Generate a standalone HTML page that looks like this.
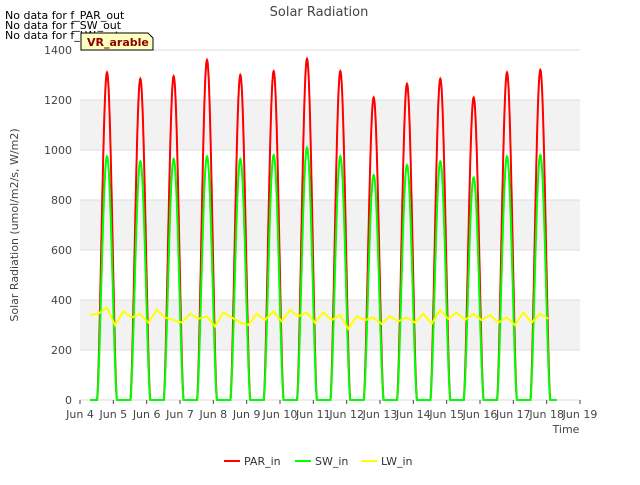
<!DOCTYPE html>
<html><head><meta charset="utf-8"><style>
body{margin:0;background:#fff;font-family:"Liberation Sans","DejaVu Sans",sans-serif}
</style></head><body>
<svg id="chart" width="640" height="480" xmlns="http://www.w3.org/2000/svg" font-family="DejaVu Sans, Liberation Sans, sans-serif">
<rect width="640" height="480" fill="#fff"/>
<g id="bands"></g>
<g id="grid"></g>
<g id="series"></g>
<g id="axes"></g>
<text x="319" y="16" text-anchor="middle" font-size="13" fill="#444">Solar Radiation</text>
<text transform="translate(18,225) rotate(-90)" text-anchor="middle" font-size="11" fill="#444">Solar Radiation (umol/m2/s, W/m2)</text>
<text x="566" y="433" text-anchor="middle" font-size="11" fill="#444">Time</text>
<text x="5" y="19" font-size="11" fill="#000">No data for f_PAR_out</text>
<text x="5" y="29" font-size="11" fill="#000">No data for f_SW_out</text>
<text x="5" y="39" font-size="11" fill="#000">No data for f_LW_out</text>
<g>
<path d="M81,50 L81,33 L148,33 L153,38 L153,50 Z" fill="#ffffc0" stroke="#000" stroke-width="1"/>
<text x="87" y="46" font-size="11" font-weight="bold" fill="#8b0000">VR_arable</text>
</g>
<g>
<line x1="224" y1="461" x2="240" y2="461" stroke="#f00" stroke-width="2"/><text x="244" y="465" font-size="11" fill="#333">PAR_in</text>
<line x1="295" y1="461" x2="311" y2="461" stroke="#0f0" stroke-width="2"/><text x="315" y="465" font-size="11" fill="#333">SW_in</text>
<line x1="361" y1="461" x2="377" y2="461" stroke="#ff0" stroke-width="2"/><text x="381" y="465" font-size="11" fill="#333">LW_in</text>
</g>
</svg>
<script>
const dayLabels=["Jun 4","Jun 5","Jun 6","Jun 7","Jun 8","Jun 9","Jun 10","Jun 11","Jun 12","Jun 13","Jun 14","Jun 15","Jun 16","Jun 17","Jun 18","Jun 19"];
const yTicks=[0,200,400,600,800,1000,1200,1400];
const parPeaks=[1310,1285,1295,1360,1300,1315,1365,1315,1210,1265,1285,1210,1310,1320];
const swPeaks=[975,955,965,975,965,980,1010,975,900,940,955,890,975,980];
const lwValues=[340,345,370,300,355,330,345,310,360,330,320,310,345,325,335,295,350,330,310,300,345,320,355,315,360,335,350,310,350,320,340,285,335,320,330,305,335,315,330,310,345,305,360,325,350,320,345,320,340,310,330,300,350,310,345,325];
const NS="http://www.w3.org/2000/svg";
const x0=80,x1=580,y0=400,y1=50;
const X=d=>x0+(d)/15*(x1-x0);
const Y=v=>y0-v/1400*(y0-y1);
function el(t,a,p){const e=document.createElementNS(NS,t);for(const k in a)e.setAttribute(k,a[k]);document.getElementById(p).appendChild(e);return e;}
[[200,400],[600,800],[1000,1200]].forEach(b=>{
 const r=el('rect',{x:x0,y:Y(b[1]),width:x1-x0,height:Y(b[0])-Y(b[1]),fill:'#f2f2f2'},'bands');
 
 
});
yTicks.forEach(v=>{
 const l=el('line',{x1:x0,x2:x1,y1:Y(v),y2:Y(v),stroke:'#ddd'},'grid');
 
 
 const t=el('text',{x:x0-8,y:Y(v)+4,'text-anchor':'end','font-size':11,fill:'#444'},'axes');t.textContent=v;
 
 
});
dayLabels.forEach((s,i)=>{
 const l=el('line',{x1:X(i),x2:X(i),y1:y0,y2:y0+4,stroke:'#444'},'axes');
 
 
 const t=el('text',{x:X(i),y:y0+18,'text-anchor':'middle','font-size':11,fill:'#444'},'axes');t.textContent=s;
 
 
});
function daily(peaks){
 const pts=[];
 for(let t=0.3;t<=14.3;t+=0.01){
  const d=Math.floor(t-0.3+0.5);const i=Math.min(peaks.length-1,Math.max(0,Math.round(t-0.81)));
  const dt=t-(i+0.81);let v=0;
  if(Math.abs(dt)<0.3){v=peaks[i]*Math.pow(Math.cos(Math.PI*dt/0.6),1.6);}
  pts.push(X(t).toFixed(1)+','+Y(v).toFixed(1));
 }
 return pts.join(' ');
}
const par=el('polyline',{points:daily(parPeaks),fill:'none',stroke:'#f00','stroke-width':2},'series');


const sw=el('polyline',{points:daily(swPeaks),fill:'none',stroke:'#0f0','stroke-width':2},'series');


const lwPts=lwValues.map((v,i)=>X(0.3+i*0.25).toFixed(1)+','+Y(v).toFixed(1)).join(' ');
const lw=el('polyline',{points:lwPts,fill:'none',stroke:'#ff0','stroke-width':2},'series');


</script>
</body></html>
